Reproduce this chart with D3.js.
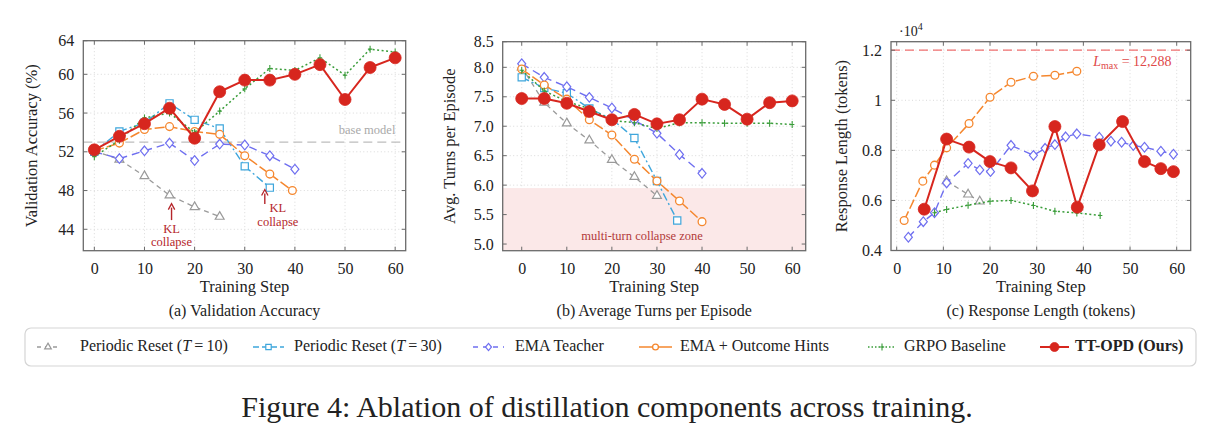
<!DOCTYPE html>
<html><head><meta charset="utf-8">
<script src="https://cdn.jsdelivr.net/npm/d3@7"></script>
<style>
body{margin:0;background:#fff}
svg{display:block}
text{font-family:"Liberation Serif","Times New Roman",serif;fill:#222}
</style>
</head><body>
<svg id="chart" width="1213" height="440"></svg>
<script>
// ---------------- DATA ----------------
const seriesKeys = ["t10","t30","ema","hint","grpo","ours"];
const seriesNames = ["Periodic Reset (T=10)","Periodic Reset (T=30)","EMA Teacher","EMA + Outcome Hints","GRPO Baseline","TT-OPD (Ours)"];

// (a) Validation accuracy (%)
const accSteps = [0,5,10,15,20,25,30,35,40,45,50,55,60];
const accT10Steps = [0,5,10,15,20,25];
const accT10 = [52.1,51.2,49.5,47.5,46.3,45.3];
const accT30Steps = [0,5,10,15,20,25,30,35];
const accT30 = [52.0,54.1,55.0,57.0,55.3,54.4,50.5,48.3];
const accEmaSteps = [0,5,10,15,20,25,30,35,40];
const accEma = [52.0,51.3,52.1,52.9,51.1,52.8,52.7,51.6,50.2];
const accHintSteps = [0,5,10,15,20,25,30,35,39.5];
const accHint = [52.1,52.9,54.3,54.6,54.1,53.8,51.6,49.7,48.0];
const accGrpo = [51.5,53.2,55.5,56.0,54.0,56.2,58.5,60.6,60.4,61.7,59.9,62.6,62.3];
const accOurs = [52.2,53.6,54.9,56.5,53.4,58.2,59.4,59.4,60.0,61.0,57.4,60.7,61.7];
const accBaseModel = 53.0;
const accYTicks = [44,48,52,56,60,64];

// (b) Average turns per episode
const turnSteps = [0,5,10,15,20,25,30,35,40,45,50,55,60];
const turnT10Steps = [0,5,10,15,20,25,30];
const turnT10 = [8.0,7.4,7.05,6.76,6.43,6.14,5.82];
const turnT30Steps = [0,5,10,15,20,25,30,34.5];
const turnT30 = [7.83,7.65,7.56,7.3,7.12,6.8,6.07,5.4];
const turnEmaSteps = [0,5,10,15,20,25,30,35,40];
const turnEma = [8.06,7.83,7.67,7.49,7.31,7.1,6.88,6.52,6.2];
const turnHintSteps = [0,5,10,15,20,25,30,35,40];
const turnHint = [7.97,7.7,7.46,7.11,6.85,6.44,6.07,5.73,5.38];
const turnGrpo = [7.95,7.6,7.42,7.3,7.1,7.06,6.96,7.06,7.06,7.05,7.05,7.05,7.03];
const turnOurs = [7.47,7.47,7.39,7.25,7.11,7.2,7.04,7.11,7.46,7.37,7.12,7.4,7.43];
const turnCollapseZone = 5.95;
const turnYTicks = [5.0,5.5,6.0,6.5,7.0,7.5,8.0,8.5];

// (c) Response length (tokens)
const lenT10Steps = [10.7,15.3,17.8];
const lenT10 = [6770,6240,5960];
const lenEmaSteps = [2.5,5.7,8.1,10.7,15.3,17.8,20.1,24.5,29.3,31.8,33.9,36.2,38.6,43.4,45.9,48.2,50.7,53.1,56.6,59.3];
const lenEma = [4530,5150,5510,6700,7480,7220,7150,8200,7800,8080,8230,8540,8660,8525,8365,8325,8190,8125,7966,7846];
const lenHintSteps = [1.6,5.6,8.1,10.7,15.5,20,24.5,29.3,33.9,38.6];
const lenHint = [5200,6770,7410,8100,9070,10120,10720,10960,11000,11160];
const lenGrpoSteps = [8.1,10.7,15.3,20,24.5,29.3,33.9,38.6,43.6];
const lenGrpo = [5510,5640,5810,5970,6000,5800,5570,5500,5400];
const lenOursSteps = [5.9,10.7,15.5,20,24.5,29.1,33.9,38.7,43.4,48.4,53.1,56.6,59.3];
const lenOurs = [5650,8450,8130,7550,7300,6380,8950,5730,8220,9150,7550,7270,7150];
const lenMaxLine = 12000;
const lenYTicks = [4000,6000,8000,10000,12000];

const xTicks = [0,10,20,30,40,50,60];

// ---------------- STYLE ----------------
const style = {
  t10: {color:"#9a9a9a", dash:"5,4", sym:"triangle", w:1.3},
  t30: {color:"#3ea6dc", dash:"8,3,2,3", sym:"square", w:1.4},
  ema: {color:"#6f6ff0", dash:"8,5", sym:"diamond", w:1.4},
  hint:{color:"#f5872e", dash:"10,3", sym:"circle", w:1.5},
  grpo:{color:"#3a9d3a", dash:"2,2.5", sym:"plus", w:1.5},
  ours:{color:"#d7261e", dash:null, sym:"dot", w:2}
};
const legendDash = {t10:"4,4", t30:"6,3", ema:"5,5", hint:null, grpo:"1.5,2", ours:null};
const annotRed = "#b5262b";

const svg = d3.select("#chart");
const zip = (xs, ys) => xs.map((x,i)=>({x, y:ys[i]}));

function marker(g, sym, color, x, y, small){
  const k = small ? 0.75 : 1;
  if(sym==="dot"){ g.append("circle").attr("cx",x).attr("cy",y).attr("r",small?4.5:6).attr("fill",color).attr("stroke",color).attr("stroke-width",0.8); return; }
  if(sym==="circle"){ g.append("circle").attr("cx",x).attr("cy",y).attr("r",3.9*k).attr("fill","#fff").attr("stroke",color).attr("stroke-width",1.3); return; }
  if(sym==="plus"){ g.append("path").attr("d",`M${x},${y-3.5}V${y+3.5}M${x-2.2},${y}H${x+2.2}`).attr("stroke",color).attr("stroke-width",1.1).attr("fill","none"); return; }
  let d;
  if(sym==="diamond"){ const w=4*k, h=4.8*k; d=`M0,${-h}L${w},0L0,${h}L${-w},0Z`; }
  else { const t = {triangle:[d3.symbolTriangle,34], square:[d3.symbolSquare,52]}[sym]; d = d3.symbol().type(t[0]).size(t[1]*k*k)(); }
  g.append("path").attr("d",d).attr("transform",`translate(${x},${y})`)
   .attr("fill","#fff").attr("stroke",color).attr("stroke-width",1.2);
}

function drawPanel(p){
  const g = svg.append("g");
  const [x0,x1] = p.x.range(), [y0,y1] = p.y.range(); // y0 bottom, y1 top
  // grid
  g.append("g").selectAll("line").data(xTicks).join("line")
    .attr("x1",d=>p.x(d)).attr("x2",d=>p.x(d)).attr("y1",y1).attr("y2",y0)
    .attr("stroke","#d9d9d9").attr("stroke-dasharray","1,2.5");
  g.append("g").selectAll("line").data(p.yTicks).join("line")
    .attr("x1",x0).attr("x2",x1).attr("y1",d=>p.y(d)).attr("y2",d=>p.y(d))
    .attr("stroke","#d9d9d9").attr("stroke-dasharray","1,2.5");
  if(p.before) p.before(g);
  const line = d3.line().x(d=>p.x(d.x)).y(d=>p.y(d.y));
  for(const k of seriesKeys){
    const pts = p.data[k]; if(!pts) continue;
    const s = style[k];
    g.append("path").datum(pts).attr("d",line).attr("fill","none").attr("stroke",s.color)
      .attr("stroke-width",s.w).attr("stroke-dasharray",s.dash).attr("stroke-linejoin","round");
    const mg = g.append("g");
    pts.forEach(d=>marker(mg, s.sym, s.color, p.x(d.x), p.y(d.y)));
  }
  if(p.after) p.after(g);
  // frame
  g.append("rect").attr("x",x0).attr("y",y1).attr("width",x1-x0).attr("height",y0-y1)
    .attr("fill","none").attr("stroke","#6a6a6a").attr("stroke-width",1.3);
  // inward ticks all sides
  const tk = g.append("g").attr("stroke","#6a6a6a").attr("stroke-width",1);
  xTicks.forEach(t=>{const xx=p.x(t); tk.append("line").attr("x1",xx).attr("x2",xx).attr("y1",y0).attr("y2",y0-4);
    tk.append("line").attr("x1",xx).attr("x2",xx).attr("y1",y1).attr("y2",y1+4);});
  p.yTicks.forEach(t=>{const yy=p.y(t); tk.append("line").attr("x1",x0).attr("x2",x0+4).attr("y1",yy).attr("y2",yy);
    tk.append("line").attr("x1",x1).attr("x2",x1-4).attr("y1",yy).attr("y2",yy);});
  // axes via d3 axis for labels
  const ax = d3.axisBottom(p.x).tickValues(xTicks).tickSize(0).tickPadding(12);
  const gx = g.append("g").attr("transform",`translate(0,${y0})`).call(ax);
  gx.select(".domain").remove();
  gx.selectAll("text").attr("font-size",16).attr("fill","#333").attr("font-family","Liberation Serif");
  const ay = d3.axisLeft(p.y).tickValues(p.yTicks).tickFormat(p.fmt).tickSize(0).tickPadding(9);
  const gy = g.append("g").attr("transform",`translate(${x0},0)`).call(ay);
  gy.select(".domain").remove();
  gy.selectAll("text").attr("font-size",16).attr("fill","#333").attr("font-family","Liberation Serif");
  // titles
  const cx = (x0+x1)/2;
  g.append("text").attr("x",cx).attr("y",292).attr("text-anchor","middle").attr("font-size",16.5).text("Training Step");
  g.append("text").attr("x",cx).attr("y",316).attr("text-anchor","middle").attr("font-size",16).text(p.caption);
  g.append("text").attr("transform",`translate(${p.ylabX},${(y0+y1)/2}) rotate(-90)`)
    .attr("text-anchor","middle").attr("font-size",16.5).text(p.ylabel);
}

// (a)
const xa = d3.scaleLinear([-2.2,62.1],[83.3,405.7]);
const ya = d3.scaleLinear([41.79,63.47],[250.7,40.7]).clamp(true);
drawPanel({
  x:xa, y:ya, yTicks:accYTicks, fmt:d3.format("d"), caption:"(a) Validation Accuracy",
  ylabel:"Validation Accuracy (%)", ylabX:37,
  data:{t10:zip(accT10Steps,accT10), t30:zip(accT30Steps,accT30), ema:zip(accEmaSteps,accEma),
        hint:zip(accHintSteps,accHint), grpo:zip(accSteps,accGrpo), ours:zip(accSteps,accOurs)},
  before:g=>{
    g.append("line").attr("x1",xa.range()[0]).attr("x2",xa.range()[1]).attr("y1",ya(accBaseModel)).attr("y2",ya(accBaseModel))
      .attr("stroke","#bdbdbd").attr("stroke-width",1.3).attr("stroke-dasharray","9,5");
    g.append("text").attr("x",xa(54.4)).attr("y",ya(54.15)).attr("text-anchor","middle").attr("dominant-baseline","middle")
      .attr("font-size",12.5).style("fill","#a9a9a9").text("base model");
  },
  after:g=>{
    const ann = [{x:15.4, from:44.95, to:46.55, tx:15.4, l1:43.95, l2:42.55},{x:34.0, from:46.6, to:48.0, tx:36.6, l1:46.05, l2:44.65}];
    ann.forEach(a=>{
      g.append("line").attr("x1",xa(a.x)).attr("x2",xa(a.x)).attr("y1",ya(a.from)).attr("y2",ya(a.to)+3)
        .attr("stroke",annotRed).attr("stroke-width",1.4);
      g.append("path").attr("d",`M${xa(a.x)-3.2},${ya(a.to)+5}L${xa(a.x)},${ya(a.to)-1}L${xa(a.x)+3.2},${ya(a.to)+5}`)
        .attr("fill","none").attr("stroke",annotRed).attr("stroke-width",1.3);
      g.append("text").attr("x",xa(a.tx)).attr("y",ya(a.l1)).attr("text-anchor","middle").attr("dominant-baseline","middle")
        .attr("font-size",12.5).style("fill",annotRed).text("KL");
      g.append("text").attr("x",xa(a.tx)).attr("y",ya(a.l2)).attr("text-anchor","middle").attr("dominant-baseline","middle")
        .attr("font-size",12.5).style("fill",annotRed).text("collapse");
    });
  }
});

// (b)
const xb = d3.scaleLinear([-4.22,63.0],[502.7,805.7]);
const yb = d3.scaleLinear([4.887,8.435],[250.7,41.7]).clamp(true);
drawPanel({
  x:xb, y:yb, yTicks:turnYTicks, fmt:d3.format(".1f"), caption:"(b) Average Turns per Episode",
  ylabel:"Avg. Turns per Episode", ylabX:455,
  data:{t10:zip(turnT10Steps,turnT10), t30:zip(turnT30Steps,turnT30), ema:zip(turnEmaSteps,turnEma),
        hint:zip(turnHintSteps,turnHint), grpo:zip(turnSteps,turnGrpo), ours:zip(turnSteps,turnOurs)},
  before:g=>{
    g.append("rect").attr("x",xb.range()[0]).attr("width",xb.range()[1]-xb.range()[0])
      .attr("y",yb(turnCollapseZone)).attr("height",yb.range()[0]-yb(turnCollapseZone)).attr("fill","#fbe8e8");
    g.append("text").attr("x",xb(26.7)).attr("y",yb(5.125)).attr("text-anchor","middle").attr("dominant-baseline","middle")
      .attr("font-size",12.5).style("fill","#b23a3a").text("multi-turn collapse zone");
  }
});

// (c)
const xc = d3.scaleLinear([-1.22,63.0],[891,1190.7]);
const yc = d3.scaleLinear([4000,12340],[250.5,41.7]);
drawPanel({
  x:xc, y:yc, yTicks:lenYTicks, fmt:d=>d3.format("~g")(d/1e4), caption:"(c) Response Length (tokens)",
  ylabel:"Response Length (tokens)", ylabX:847,
  data:{t10:zip(lenT10Steps,lenT10), ema:zip(lenEmaSteps,lenEma), hint:zip(lenHintSteps,lenHint),
        grpo:zip(lenGrpoSteps,lenGrpo), ours:zip(lenOursSteps,lenOurs)},
  before:g=>{
    g.append("line").attr("x1",xc.range()[0]).attr("x2",xc.range()[1]).attr("y1",yc(lenMaxLine)).attr("y2",yc(lenMaxLine))
      .attr("stroke","#f07070").attr("stroke-width",1.3).attr("stroke-dasharray","9,5");
    const t = g.append("text").attr("x",xc(42.1)).attr("y",yc(11350)).attr("font-size",14).style("fill","#e04848");
    t.append("tspan").attr("font-style","italic").text("L");
    t.append("tspan").attr("font-size",10).attr("dy",3).text("max");
    t.append("tspan").attr("dy",-3).text(" = 12,288");
  }
});
// ·10^4 multiplier
{
  const t = svg.append("text").attr("x",xc.range()[0]+8).attr("y",36).attr("font-size",14);
  t.append("tspan").text("·10");
  t.append("tspan").attr("font-size",10).attr("dy",-6).text("4");
}

// ---------------- LEGEND ----------------
const lg = svg.append("g");
lg.append("rect").attr("x",25).attr("y",328).attr("width",1171).attr("height",38).attr("rx",6)
  .attr("fill","#fff").attr("stroke","#d5d5d5").attr("stroke-width",1.2);
const legendPos = [[37,59,80],[253,284,294],[473,504,515],[639,672,680],[868,896,904],[1040,1069,1075]];
seriesKeys.forEach((k,i)=>{
  const s = style[k], [a,b,tx] = legendPos[i], yy = 347;
  lg.append("line").attr("x1",a).attr("x2",b).attr("y1",yy).attr("y2",yy).attr("stroke",s.color)
    .attr("stroke-width",s.w).attr("stroke-dasharray",legendDash[k]);
  marker(lg, s.sym, s.color, (a+b)/2, yy, true);
  const t = lg.append("text").attr("x",tx).attr("y",yy).attr("dominant-baseline","middle").attr("font-size",16);
  const name = seriesNames[i];
  if(name.includes("(T=")){
    const m = name.split("(T=");
    t.append("tspan").text(m[0]+"(");
    t.append("tspan").attr("font-style","italic").text("T");
    t.append("tspan").text("\u2009=\u2009"+m[1]);
  } else {
    t.text(name);
    if(k==="ours") t.attr("font-weight","bold");
  }
});

// ---------------- CAPTION ----------------
svg.append("text").attr("x",607).attr("y",417).attr("text-anchor","middle").attr("font-size",30)
  .text("Figure 4: Ablation of distillation components across training.");
</script>
</body></html>
